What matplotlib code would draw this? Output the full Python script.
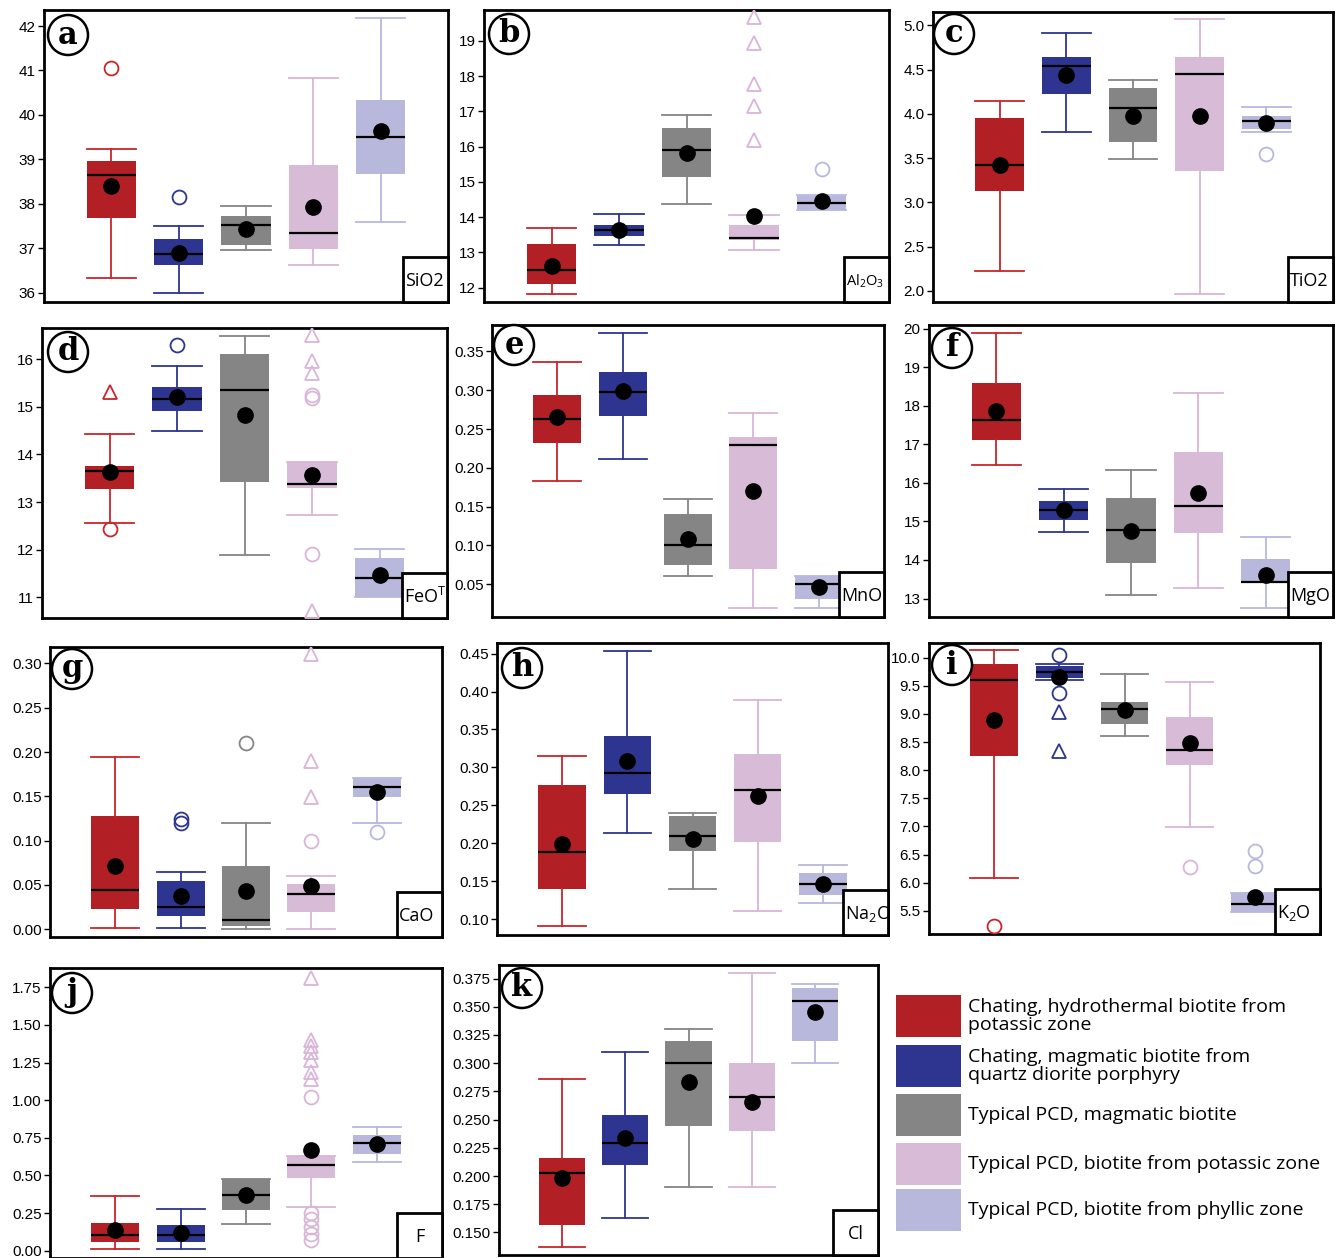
import numpy as np
import matplotlib
matplotlib.use("Agg")
import matplotlib.pyplot as plt
from matplotlib.patches import Rectangle, Circle
from matplotlib.ticker import FormatStrFormatter

plt.rcParams['font.family'] = ['Liberation Sans', 'DejaVu Sans']
plt.rcParams['mathtext.default'] = 'regular'

# group names (legend)
groups = ["Chating, hydrothermal biotite from\npotassic zone",
          "Chating, magmatic biotite from\nquartz diorite porphyry",
          "Typical PCD, magmatic biotite",
          "Typical PCD, biotite from potassic zone",
          "Typical PCD, biotite from phyllic zone"]

# box stats per group: whislo, q1, median, q3, whishi ; outliers as (group, value)
sio2 = [[36.32, 37.67, 38.64, 38.97, 39.23], [35.99, 36.62, 36.86, 37.20, 37.50],
        [36.95, 37.07, 37.53, 37.73, 37.95], [36.62, 36.99, 37.35, 38.87, 40.82],
        [37.59, 38.67, 39.51, 40.33, 42.17]]
sio2_mean = [38.40, 36.89, 37.44, 37.93, 39.63]
sio2_circ = [(1, 41.06), (2, 38.16)]
sio2_tri = []

al2o3 = [[11.81, 12.09, 12.50, 13.23, 13.69], [13.20, 13.45, 13.62, 13.78, 14.09],
         [14.36, 15.14, 15.90, 16.54, 16.89], [13.07, 13.35, 13.41, 13.78, 14.06],
         [14.20, 14.21, 14.39, 14.60, 14.62]]
al2o3_mean = [12.62, 13.64, 15.83, 14.02, 14.47]
al2o3_circ = [(5, 15.37)]
al2o3_tri = [(4, 19.67), (4, 18.94), (4, 17.78), (4, 17.16), (4, 16.19)]

tio2 = [[2.23, 3.13, 3.42, 3.95, 4.14], [3.79, 4.22, 4.54, 4.64, 4.91],
        [3.49, 3.68, 4.07, 4.29, 4.38], [1.96, 3.35, 4.45, 4.64, 5.07],
        [3.79, 3.83, 3.92, 3.98, 4.08]]
tio2_mean = [3.42, 4.44, 3.98, 3.98, 3.90]
tio2_circ = [(5, 3.55)]
tio2_tri = []

feo = [[12.57, 13.27, 13.66, 13.76, 14.43], [14.50, 14.90, 15.17, 15.41, 15.86],
       [11.90, 13.43, 15.34, 16.11, 16.48], [12.73, 13.29, 13.38, 13.85, 13.85],
       [11.02, 11.02, 11.41, 11.83, 12.01]]
feo_mean = [13.63, 15.21, 14.83, 13.57, 11.48]
feo_circ = [(1, 12.43), (2, 16.30), (4, 15.24), (4, 15.18), (4, 11.91)]
feo_tri = [(1, 15.31), (4, 16.50), (4, 15.95), (4, 15.71), (4, 10.72)]

mno = [[0.183, 0.232, 0.263, 0.294, 0.336], [0.211, 0.267, 0.298, 0.323, 0.374],
       [0.060, 0.075, 0.100, 0.140, 0.160], [0.019, 0.069, 0.229, 0.240, 0.270],
       [0.019, 0.031, 0.050, 0.060, 0.060]]
mno_mean = [0.265, 0.299, 0.108, 0.170, 0.047]
mno_circ = []
mno_tri = []

mgo = [[16.47, 17.11, 17.63, 18.60, 19.90], [14.72, 15.05, 15.31, 15.52, 15.85],
       [13.09, 13.92, 14.77, 15.61, 16.34], [13.26, 14.70, 15.41, 16.80, 18.34],
       [12.75, 13.40, 13.44, 14.02, 14.59]]
mgo_mean = [17.87, 15.30, 14.76, 15.73, 13.62]
mgo_circ = []
mgo_tri = []

cao = [[0.002, 0.023, 0.044, 0.128, 0.194], [0.002, 0.015, 0.025, 0.054, 0.065],
       [0.000, 0.004, 0.010, 0.071, 0.120], [0.000, 0.020, 0.040, 0.051, 0.060],
       [0.120, 0.149, 0.161, 0.171, 0.171]]
cao_mean = [0.071, 0.038, 0.043, 0.049, 0.155]
cao_circ = [(2, 0.125), (2, 0.120), (3, 0.210), (4, 0.100), (5, 0.110)]
cao_tri = [(4, 0.311), (4, 0.190), (4, 0.149)]

na2o = [[0.091, 0.140, 0.189, 0.277, 0.315], [0.214, 0.265, 0.292, 0.342, 0.454],
        [0.140, 0.190, 0.210, 0.236, 0.240], [0.111, 0.202, 0.270, 0.318, 0.389],
        [0.121, 0.132, 0.146, 0.161, 0.171]]
na2o_mean = [0.199, 0.308, 0.206, 0.262, 0.146]
na2o_circ = []
na2o_tri = []

k2o = [[6.08, 8.25, 9.61, 9.88, 10.14], [9.61, 9.63, 9.74, 9.85, 9.88],
       [8.60, 8.82, 9.09, 9.21, 9.71], [6.99, 8.09, 8.36, 8.95, 9.56],
       [5.48, 5.48, 5.63, 5.82, 5.82]]
k2o_mean = [8.89, 9.65, 9.07, 8.49, 5.74]
k2o_circ = [(1, 5.23), (2, 10.04), (2, 9.38), (4, 6.28), (5, 6.56), (5, 6.30)]
k2o_tri = [(2, 9.03), (2, 8.35)]

f_ = [[0.015, 0.055, 0.103, 0.186, 0.367], [0.015, 0.059, 0.103, 0.169, 0.279],
      [0.175, 0.270, 0.373, 0.479, 0.479], [0.292, 0.484, 0.572, 0.631, 0.631],
      [0.587, 0.642, 0.714, 0.770, 0.820]]
f_mean = [0.136, 0.117, 0.368, 0.671, 0.708]
f_circ = [(4, 1.02), (4, 0.25), (4, 0.21), (4, 0.16), (4, 0.11), (4, 0.07)]
f_tri = [(4, 1.81), (4, 1.40), (4, 1.36), (4, 1.32), (4, 1.27), (4, 1.19), (4, 1.14)]

cl = [[0.137, 0.157, 0.203, 0.216, 0.286], [0.163, 0.210, 0.229, 0.254, 0.310],
      [0.190, 0.244, 0.300, 0.320, 0.330], [0.190, 0.240, 0.270, 0.300, 0.380],
      [0.300, 0.320, 0.355, 0.367, 0.370]]
cl_mean = [0.198, 0.234, 0.283, 0.266, 0.345]
cl_circ = []
cl_tri = []

box_cols = ['#B21F24', '#2E3590', '#858585', '#D8BBD6', '#B8B8DC']
line_cols = ['#C8262C', '#2E3590', '#858585', '#D9B5D8', '#B8B8E0']

W, H = 1343, 1258
fig = plt.figure(figsize=(W / 100, H / 100), dpi=100)

# panel: (letter, oxide label, stats, means, circles, triangles, ylim, ticks, fmt, px box l,t,r,b, circle centre)
panels = [
    ('a', 'SiO2', sio2, sio2_mean, sio2_circ, sio2_tri, (35.79, 42.36), np.arange(36, 43, 1), '%d', (44, 10, 448, 302), (68, 35)),
    ('b', 'Al$_2$O$_3$', al2o3, al2o3_mean, al2o3_circ, al2o3_tri, (11.59, 19.88), np.arange(12, 20, 1), '%d', (484, 10, 889, 302), (509, 34)),
    ('c', 'TiO2', tio2, tio2_mean, tio2_circ, tio2_tri, (1.875, 5.15), np.arange(2.0, 5.01, 0.5), '%.1f', (933, 12, 1333, 302), (954, 34)),
    ('d', 'FeO$^T$', feo, feo_mean, feo_circ, feo_tri, (10.57, 16.65), np.arange(11, 17, 1), '%d', (42, 328, 447, 618), (68, 352)),
    ('e', 'MnO', mno, mno_mean, mno_circ, mno_tri, (0.0078, 0.384), np.arange(0.05, 0.351, 0.05), '%.2f', (492, 325, 884, 617), (514, 345)),
    ('f', 'MgO', mgo, mgo_mean, mgo_circ, mgo_tri, (12.52, 20.10), np.arange(13, 21, 1), '%d', (929, 325, 1333, 617), (952, 348)),
    ('g', 'CaO', cao, cao_mean, cao_circ, cao_tri, (-0.0087, 0.3185), np.arange(0, 0.301, 0.05), '%.2f', (50, 647, 442, 937), (72, 669)),
    ('h', 'Na$_2$O', na2o, na2o_mean, na2o_circ, na2o_tri, (0.079, 0.464), np.arange(0.10, 0.451, 0.05), '%.2f', (497, 643, 888, 935), (522, 668)),
    ('i', 'K$_2$O', k2o, k2o_mean, k2o_circ, k2o_tri, (5.09, 10.26), np.arange(5.5, 10.01, 0.5), '%.1f', (929, 643, 1320, 934), (952, 665)),
    ('j', 'F', f_, f_mean, f_circ, f_tri, (-0.048, 1.878), np.arange(0, 1.76, 0.25), '%.2f', (50, 968, 442, 1258), (72, 993)),
    ('k', 'Cl', cl, cl_mean, cl_circ, cl_tri, (0.130, 0.387), np.arange(0.150, 0.3751, 0.025), '%.3f', (499, 965, 878, 1255), (522, 988)),
]

pos = np.arange(1, 6)
for letter, ox, stats, means, circ, tri, ylim, ticks, fmt, (l, t, r, b), _ in panels:
    ax = fig.add_axes([l / W, 1 - b / H, (r - l) / W, (b - t) / H])
    bx = [dict(whislo=s[0], q1=s[1], med=s[2], q3=s[3], whishi=s[4], fliers=[]) for s in stats]
    art = ax.bxp(bx, positions=pos, widths=0.73, capwidths=0.73, patch_artist=True,
                 showfliers=False, medianprops=dict(color='black', lw=1.6))
    for i in range(5):
        art['boxes'][i].set_facecolor(box_cols[i])
        art['boxes'][i].set_edgecolor('none')
        for ln in art['whiskers'][2 * i:2 * i + 2] + art['caps'][2 * i:2 * i + 2]:
            ln.set_color(line_cols[i])
            ln.set_linewidth(1.3)
    ax.plot(pos, means, 'o', color='black', ms=11, zorder=6)
    for g, v in circ:
        ax.plot(g, v, 'o', mfc='none', mec=line_cols[g - 1], ms=10, mew=1.3, zorder=5, clip_on=False)
    for g, v in tri:
        ax.plot(g, v, '^', mfc='none', mec=line_cols[g - 1], ms=10, mew=1.3, zorder=5)
    ax.set_xlim(0, 6)
    ax.set_ylim(*ylim)
    ax.set_xticks([])
    ax.set_yticks(ticks)
    ax.yaxis.set_major_formatter(FormatStrFormatter(fmt))
    ax.tick_params(axis='y', length=4, width=1, labelsize=11, pad=2)
    for sp in ax.spines.values():
        sp.set_linewidth(2)

# overlay in pixel coordinates for circled letters, oxide boxes and legend
ov = fig.add_axes([0, 0, 1, 1])
ov.set_xlim(0, W)
ov.set_ylim(H, 0)
ov.axis('off')
ov.patch.set_alpha(0)

for letter, ox, stats, means, circ, tri, ylim, ticks, fmt, (l, t, r, b), (cx, cy) in panels:
    ov.add_patch(Circle((cx, cy), 20, fc='white', ec='black', lw=1.8, zorder=5))
    ov.text(cx, cy, letter, ha='center', va='center', fontsize=22, fontweight='bold',
            family='DejaVu Serif', zorder=6)
    rect = Rectangle((r - 45, b - 45), 45, 45, fc='white', ec='black', lw=2, zorder=5)
    ov.add_patch(rect)
    fs = 10.5 if ox.startswith('Al') else 13
    if ox in ('F', 'Cl'):
        txt = ov.text(r - 22.5, b - 21, ox, ha='center', va='center', fontsize=fs,
                      family='Open Sans', zorder=6)
    else:
        txt = ov.text(r - 43, b - 21, ox, ha='left', va='center', fontsize=fs,
                      family='Open Sans', zorder=6)
    txt.set_clip_path(rect)

# legend
leg_y = [1016, 1066, 1115, 1164, 1210]
for i, name in enumerate(groups):
    ov.add_patch(Rectangle((896, leg_y[i] - 21), 65, 42, fc=box_cols[i], ec='none'))
    ov.text(968, leg_y[i], name, ha='left', va='center', fontsize=14, family='Open Sans',
            linespacing=0.95)

fig.savefig('out.png', dpi=100)
